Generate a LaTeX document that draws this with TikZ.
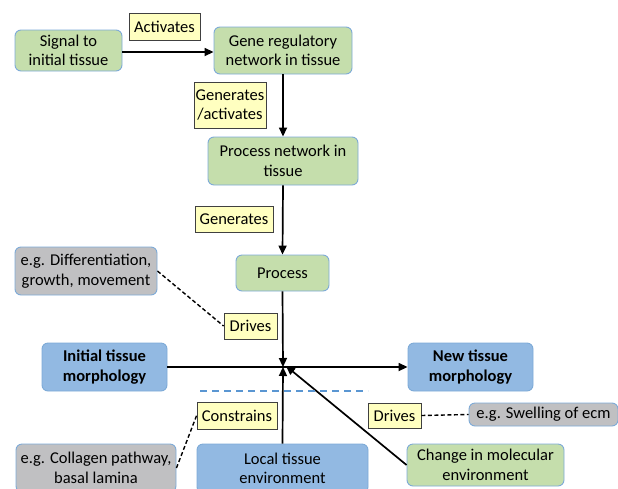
\documentclass[tikz,border=0pt]{standalone}
\usepackage{fontspec}
\setmainfont{Carlito}
\usetikzlibrary{arrows.meta}
\definecolor{greenfill}{RGB}{197,222,172}
\definecolor{bluefill}{RGB}{146,185,226}
\definecolor{greyfill}{RGB}{192,192,194}
\definecolor{boxedge}{RGB}{125,170,215}
\definecolor{labelfill}{RGB}{255,255,192}
\definecolor{dashblue}{RGB}{90,150,210}
\begin{document}
\begin{tikzpicture}[x=1pt,y=-1pt,
  every node/.style={font=\fontsize{16.5}{19.5}\selectfont, align=center, inner sep=1pt},
  box/.style={draw=boxedge, line width=0.9pt, rounded corners=6pt},
  greenbox/.style={box, fill=greenfill},
  bluebox/.style={box, fill=bluefill},
  greybox/.style={box, fill=greyfill},
  tag/.style={draw=black!75, line width=0.8pt, fill=labelfill},
  flow/.style={line width=1.7pt, -{Triangle[length=9pt,width=8pt]}},
  plain/.style={line width=1.7pt},
  hint/.style={line width=1.4pt, dash pattern=on 4pt off 2.5pt}]
\useasboundingbox (0,0) rectangle (618,488);
\clip (0,0) rectangle (618,488);

% upper chain
\node[greenbox, minimum width=107pt, minimum height=41pt] (signal) at (68.5,50.5) {Signal to\\initial tissue};
\node[greenbox, minimum width=138pt, minimum height=47pt] (gene) at (283,50.5) {Gene regulatory\\network in tissue};
\node[greenbox, minimum width=150pt, minimum height=48pt] (procnet) at (283,161) {Process network in\\tissue};
\node[greenbox, minimum width=93pt, minimum height=36pt] (process) at (282.5,273) {Process};
\node[greybox, minimum width=142pt, minimum height=48pt] (diff) at (86,271) {e.g. Differentiation,\\growth, movement};

% labels
\node[tag, minimum width=71pt, minimum height=27pt] (activates) at (164.5,26.5) {Activates};
\node[tag, minimum width=72pt, minimum height=46pt] (genact) at (230,105) {Generates\\/activates};
\node[tag, minimum width=78pt, minimum height=26pt] (generates) at (234,219) {Generates};
\node[tag, minimum width=53pt, minimum height=26pt] (drivesA) at (250.5,326) {Drives};
\node[tag, minimum width=80pt, minimum height=27pt] (constrains) at (237,415.5) {Constrains};
\node[tag, minimum width=53pt, minimum height=25pt] (drivesB) at (394.5,415.5) {Drives};

% morphology row
\node[bluebox, minimum width=125pt, minimum height=48pt, font=\fontsize{16.5}{19.5}\selectfont\bfseries] (initial) at (104.5,367) {Initial tissue\\morphology};
\node[bluebox, minimum width=125pt, minimum height=48pt, font=\fontsize{16.5}{19.5}\selectfont\bfseries] (new) at (470.5,367) {New tissue\\morphology};
\coordinate (m) at (283,367);

% lower row
\node[greybox, minimum width=149pt, minimum height=23pt] (swelling) at (543.5,414.5) {e.g. Swelling of ecm};
\node[greybox, minimum width=160pt, minimum height=48pt] (collagen) at (96,468) {e.g. Collagen pathway,\\basal lamina};
\node[bluebox, minimum width=171pt, minimum height=49pt] (local) at (282.5,468.5) {Local tissue\\environment};
\node[greenbox, minimum width=157pt, minimum height=42pt] (change) at (485.5,465) {Change in molecular\\environment};

% connectors
\draw[flow] (signal.east |- 0,52) -- (gene.west |- 0,52);
\draw[flow] (gene.south) -- (procnet.north);
\draw[flow] (procnet.south) -- (process.north);
\draw[flow] (process.south) -- (m);
\draw[plain] (initial.east) -- (m);
\draw[flow] (m) -- (new.west);
\draw[flow] (local.north) -- (m);
\draw[flow] (change.west) -- ([xshift=3pt,yshift=1pt]m);

% dashed hints
\draw[hint] (diff.east) -- (drivesA.west);
\draw[hint] (collagen.east) -- (constrains.west);
\draw[hint] (drivesB.east) -- (swelling.west);

% boundary line
\coordinate (bl) at (200,391);
\coordinate (br) at (368,391);
\draw[dashblue, line width=2pt, dash pattern=on 7pt off 5pt] (bl) -- (br);
\end{tikzpicture}
\end{document}
